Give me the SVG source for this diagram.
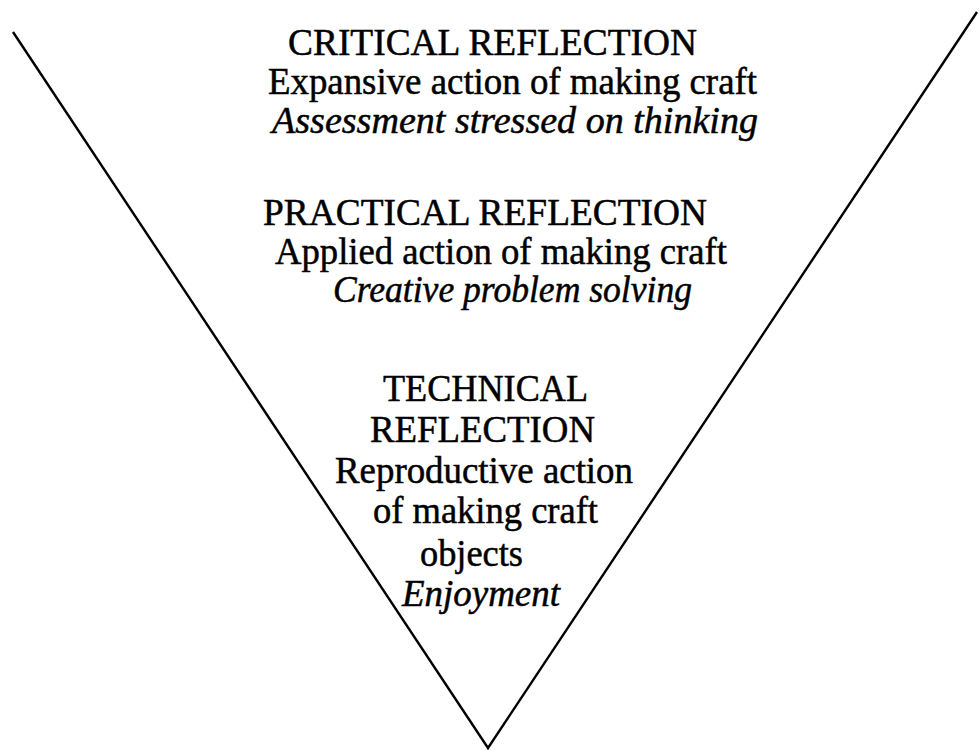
<svg xmlns="http://www.w3.org/2000/svg" width="980" height="753" viewBox="0 0 980 753">
<style>
.t{font-family:"Liberation Serif","Times New Roman",serif;font-size:37px;fill:#000;stroke:#000;stroke-width:0.5}
.i{font-style:italic}
.ln{fill:none;stroke:#000;stroke-width:2.4;stroke-linejoin:miter}
</style>
<rect width="980" height="753" fill="#fff"/>
<g id="connectors">
<polyline class="ln" points="13,32 488,748 977,12"/>
</g>
<g id="critical">
<text class="t" x="288" y="55" textLength="409" lengthAdjust="spacingAndGlyphs">CRITICAL REFLECTION</text>
<text class="t" x="268" y="94" textLength="489" lengthAdjust="spacingAndGlyphs">Expansive action of making craft</text>
<text class="t i" x="272" y="133" textLength="486" lengthAdjust="spacingAndGlyphs">Assessment stressed on thinking</text>
</g>
<g id="practical">
<text class="t" x="263" y="225" textLength="444" lengthAdjust="spacingAndGlyphs">PRACTICAL REFLECTION</text>
<text class="t" x="275" y="264" textLength="452" lengthAdjust="spacingAndGlyphs">Applied action of making craft</text>
<text class="t i" x="333" y="302" textLength="359" lengthAdjust="spacingAndGlyphs">Creative problem solving</text>
</g>
<g id="technical">
<text class="t" x="383" y="401" textLength="205" lengthAdjust="spacingAndGlyphs">TECHNICAL</text>
<text class="t" x="370" y="442" textLength="225" lengthAdjust="spacingAndGlyphs">REFLECTION</text>
<text class="t" x="335" y="483" textLength="298" lengthAdjust="spacingAndGlyphs">Reproductive action</text>
<text class="t" x="373" y="523" textLength="225" lengthAdjust="spacingAndGlyphs">of making craft</text>
<text class="t" x="420" y="566" textLength="103" lengthAdjust="spacingAndGlyphs">objects</text>
<text class="t i" x="402" y="606" textLength="158" lengthAdjust="spacingAndGlyphs">Enjoyment</text>
</g>
</svg>
